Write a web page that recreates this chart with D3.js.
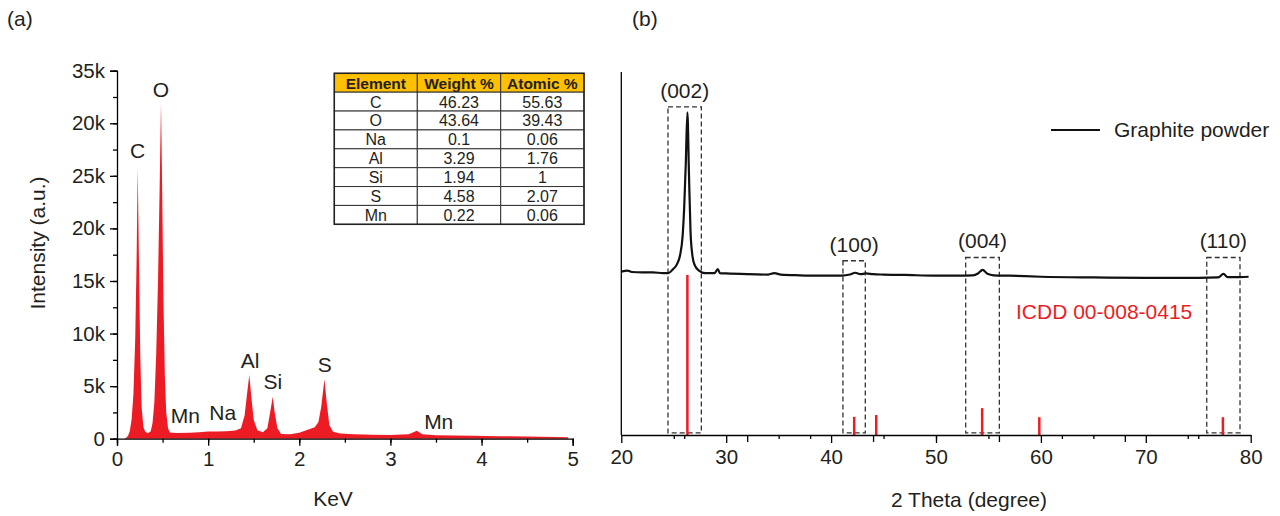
<!DOCTYPE html>
<html>
<head>
<meta charset="utf-8">
<script src="https://cdn.jsdelivr.net/npm/d3@7"></script>
<style>
  body { margin: 0; background: #fff; }
  text { font-family: "Liberation Sans", Arial, sans-serif; fill: #231f20; }
</style>
</head>
<body>
<div class="chart"></div>
<script>
// ---- data (a) EDS spectrum ----
var edsKeV = [0.08, 0.10, 0.12, 0.14, 0.16, 0.18, 0.20, 0.215, 0.227, 0.24, 0.255, 0.27, 0.29, 0.31, 0.34,
  0.37, 0.39, 0.41, 0.43, 0.45, 0.47, 0.483, 0.495, 0.51, 0.525, 0.54, 0.56, 0.58, 0.65, 0.8, 0.9,
  1.0, 1.1, 1.2, 1.3, 1.36, 1.40, 1.43, 1.452, 1.47, 1.50, 1.54, 1.60, 1.65, 1.68, 1.709, 1.73, 1.76,
  1.80, 1.9, 2.0, 2.1, 2.17, 2.21, 2.24, 2.276, 2.30, 2.33, 2.37, 2.45, 2.6, 2.8, 3.0, 3.2, 3.29, 3.35,
  3.5, 3.7, 3.9, 4.2, 4.5, 4.8, 4.95];
var edsCounts = [0, 80, 250, 700, 1800, 4200, 9500, 17000, 25800, 17500, 8000, 3000, 1100, 650, 520,
  700, 1500, 3500, 8000, 15000, 25000, 31960, 24000, 13000, 6000, 2500, 1000, 600, 540, 560, 620,
  680, 690, 700, 780, 1000, 2200, 4500, 6060, 4300, 1800, 800, 620, 1000, 2500, 3995, 2500, 1000,
  450, 420, 560, 880, 1100, 1600, 3000, 5650, 3500, 1300, 650, 500, 420, 380, 360, 420, 760, 420,
  340, 300, 280, 240, 200, 160, 130];

var edsYTicks = [0, 5000, 10000, 15000, 20000, 25000, 30000, 35000];
var edsYLabels = ["0", "5k", "10k", "15k", "20k", "25k", "20k", "35k"];

var edsPeakNames = ["C", "O", "Mn", "Na", "Al", "Si", "S", "Mn"];
var edsPeakKeV = [0.227, 0.483, 0.75, 1.16, 1.46, 1.71, 2.28, 3.53];
var edsPeakLabelY = [26700, 32500, 1500, 1750, 6700, 4700, 6300, 900];

var tableHead = ["Element", "Weight %", "Atomic %"];
var tableElements = ["C", "O", "Na", "Al", "Si", "S", "Mn"];
var tableWeight = ["46.23", "43.64", "0.1", "3.29", "1.94", "4.58", "0.22"];
var tableAtomic = ["55.63", "39.43", "0.06", "1.76", "1", "2.07", "0.06"];

// ---- data (b) XRD ----
var xrdTheta = [20.0, 20.6, 21, 22, 23, 24, 24.5, 24.9, 25.3, 25.6, 25.85, 26.0, 26.15, 26.3, 26.45,
  26.6, 26.8, 27.0, 27.4, 28.0, 28.9, 29.2, 29.4, 30, 32, 34, 34.6, 35.2, 37, 39, 41, 41.8, 42.3,
  42.8, 43.3, 44.0, 45, 47, 50, 52, 53.5, 54.0, 54.45, 54.9, 55.5, 57, 60, 65, 70, 75, 76.9, 77.4,
  77.8, 79, 79.8];
var xrdIntensity = [45.0, 45.3, 44.9, 44.8, 44.8, 44.6, 44.6, 45.6, 47.0, 49.5, 55, 63, 75, 88.9, 72,
  56, 49, 46.8, 45.3, 44.6, 44.6, 45.7, 44.6, 44.5, 44.3, 44.2, 44.6, 44.2, 44.0, 43.9, 43.9, 44.2, 44.7,
  44.3, 44.5, 44.3, 44.2, 44.1, 43.9, 43.9, 44.0, 44.5, 45.5, 44.4, 44.0, 43.9, 43.6, 43.4, 43.3, 43.3, 43.4, 44.4,
  43.5, 43.5, 43.6];

var icddTheta = [26.3, 42.2, 44.3, 54.4, 59.85, 77.35];
var icddIntensity = [44.1, 5.0, 5.5, 7.4, 4.9, 4.9];

var boxHkl = ["(002)", "(100)", "(004)", "(110)"];
var boxFrom = [24.45, 41.13, 52.83, 75.81];
var boxTo = [27.63, 43.26, 56.04, 78.98];
var boxTop = [90.4, 48.0, 48.9, 48.9];
var boxBottom = 0.6;

var svg = d3.select(".chart").append("svg")
  .attr("width", 1280)
  .attr("height", 516);

var red = "#ed1c24";

// ================= panel (a) =================
var xA = d3.scaleLinear().domain([0, 5]).range([117, 572.7]);
var yA = d3.scaleLinear().domain([0, 35000]).range([438.7, 70.7]);

var edsData = edsKeV.map(function (k, i) { return { k: k, c: edsCounts[i] }; });

var area = d3.area()
  .x(d => xA(d.k))
  .y0(yA(0))
  .y1(d => yA(d.c));

svg.append("path")
  .datum(edsData)
  .attr("d", area)
  .attr("fill", red);

// x axis (a)
svg.append("g")
  .attr("transform", `translate(0, ${yA(0)})`)
  .call(d3.axisBottom(xA).tickValues(d3.range(0, 5.01, 0.5)).tickSize(4).tickFormat(""))
  .call(g => g.select(".domain").remove());
var xAxisA = svg.append("g")
  .attr("transform", `translate(0, ${yA(0)})`)
  .call(d3.axisBottom(xA).ticks(5).tickSize(7).tickPadding(6).tickFormat(d3.format("d")));

// y axis (a)
svg.append("g")
  .attr("transform", `translate(${xA(0)}, 0)`)
  .call(d3.axisLeft(yA).tickValues(d3.range(0, 35001, 2500)).tickSize(4).tickFormat(""))
  .call(g => g.select(".domain").remove());
var yAxisA = svg.append("g")
  .attr("transform", `translate(${xA(0)}, 0)`)
  .call(d3.axisLeft(yA).tickValues(edsYTicks).tickSize(7).tickPadding(5)
    .tickFormat((d, i) => edsYLabels[i]));

// peak labels
svg.selectAll(".eds-label")
  .data(edsPeakNames)
  .enter().append("text")
  .attr("class", "eds-label")
  .attr("x", (d, i) => xA(edsPeakKeV[i]))
  .attr("y", (d, i) => yA(edsPeakLabelY[i]))
  .attr("text-anchor", "middle")
  .attr("font-size", "21px")
  .text(d => d);

svg.append("text")
  .attr("x", 333)
  .attr("y", 506)
  .attr("text-anchor", "middle")
  .attr("font-size", "21px")
  .text("KeV");

svg.append("text")
  .attr("transform", "translate(45, 243) rotate(-90)")
  .attr("text-anchor", "middle")
  .attr("font-size", "21px")
  .text("Intensity (a.u.)");

svg.append("text")
  .attr("x", 7)
  .attr("y", 26)
  .attr("font-size", "21px")
  .text("(a)");

// table
var tx = [334.3, 417.3, 500.7, 584];
var tTop = 73.3, rowH = 18.875;
var tableRows = [tableHead].concat(tableElements.map(function (e, i) {
  return [e, tableWeight[i], tableAtomic[i]];
}));
var table = svg.append("g");
tableRows.forEach(function (row, r) {
  row.forEach(function (cell, c) {
    table.append("rect")
      .attr("x", tx[c])
      .attr("y", tTop + r * rowH)
      .attr("width", tx[c + 1] - tx[c])
      .attr("height", rowH)
      .attr("fill", r == 0 ? "#ffc000" : "#fff")
      .attr("stroke", "#333")
      .attr("stroke-width", 1);
    table.append("text")
      .attr("x", (tx[c] + tx[c + 1]) / 2)
      .attr("y", tTop + r * rowH + rowH / 2 + 6)
      .attr("text-anchor", "middle")
      .attr("font-size", r == 0 ? "15.5px" : "16px")
      .attr("font-weight", r == 0 ? "bold" : "normal")
      .text(cell);
  });
});
table.append("rect")
  .attr("x", tx[0]).attr("y", tTop)
  .attr("width", tx[3] - tx[0]).attr("height", rowH * 8)
  .attr("fill", "none").attr("stroke", "#222").attr("stroke-width", 1.5);

// ================= panel (b) =================
var xB = d3.scaleLinear().domain([20, 80]).range([621.3, 1250.7]);
var yB = d3.scaleLinear().domain([0, 100]).range([435, 72]);

// dashed boxes
svg.selectAll(".hkl-box")
  .data(boxHkl)
  .enter().append("rect")
  .attr("class", "hkl-box")
  .attr("x", (d, i) => xB(boxFrom[i]))
  .attr("y", (d, i) => yB(boxTop[i]))
  .attr("width", (d, i) => xB(boxTo[i]) - xB(boxFrom[i]))
  .attr("height", (d, i) => yB(boxBottom) - yB(boxTop[i]))
  .attr("fill", "none")
  .attr("stroke", "#333")
  .attr("stroke-width", 1.3)
  .attr("stroke-dasharray", "5,3");

svg.selectAll(".hkl-label")
  .data(boxHkl)
  .enter().append("text")
  .attr("class", "hkl-label")
  .attr("x", (d, i) => (xB(boxFrom[i]) + xB(boxTo[i])) / 2)
  .attr("y", (d, i) => yB(boxTop[i]) - 9)
  .attr("text-anchor", "middle")
  .attr("font-size", "21px")
  .text(d => d);

// ICDD sticks
svg.selectAll(".icdd")
  .data(icddTheta)
  .enter().append("line")
  .attr("class", "icdd")
  .attr("x1", d => xB(d))
  .attr("x2", d => xB(d))
  .attr("y1", yB(0))
  .attr("y2", (d, i) => yB(icddIntensity[i]))
  .attr("stroke", red)
  .attr("stroke-width", 2.5);

// XRD line
var xrdData = xrdTheta.map(function (t, i) { return { t: t, v: xrdIntensity[i] }; });
svg.append("path")
  .datum(xrdData)
  .attr("d", d3.line().x(d => xB(d.t)).y(d => yB(d.v)).curve(d3.curveMonotoneX))
  .attr("fill", "none")
  .attr("stroke", "#111")
  .attr("stroke-width", 2.2);

// x axis (b): two overlaid tick sets
svg.append("g")
  .attr("transform", `translate(0, ${yB(0)})`)
  .call(d3.axisBottom(xB).tickValues([25, 35, 45, 55, 65, 75, 26, 38, 50, 62, 74]).tickSize(4).tickFormat(""))
  .call(g => g.select(".domain").remove());
svg.append("g")
  .attr("transform", `translate(0, ${yB(0)})`)
  .call(d3.axisBottom(xB).tickValues([32, 44, 56, 68]).tickSize(7).tickFormat(""))
  .call(g => g.select(".domain").remove());
var xAxisB = svg.append("g")
  .attr("transform", `translate(0, ${yB(0)})`)
  .call(d3.axisBottom(xB).tickValues(d3.range(20, 81, 10)).tickSize(8).tickPadding(6).tickSizeOuter(0));

// y axis (b): plain line
svg.append("line")
  .attr("x1", xB(20)).attr("x2", xB(20))
  .attr("y1", yB(0)).attr("y2", yB(100))
  .attr("stroke", "#000")
  .attr("stroke-width", 1.3);

svg.append("text")
  .attr("x", 969)
  .attr("y", 507)
  .attr("text-anchor", "middle")
  .attr("font-size", "21px")
  .text("2 Theta (degree)");

svg.append("text")
  .attr("x", 632)
  .attr("y", 26)
  .attr("font-size", "21px")
  .text("(b)");

// legend
svg.append("line")
  .attr("x1", 1051).attr("x2", 1100)
  .attr("y1", 130).attr("y2", 130)
  .attr("stroke", "#111").attr("stroke-width", 2.2);
svg.append("text")
  .attr("x", 1114)
  .attr("y", 137)
  .attr("font-size", "21px")
  .text("Graphite powder");

svg.append("text")
  .attr("x", 1016)
  .attr("y", 319)
  .attr("font-size", "21px")
  .style("fill", red)
  .text("ICDD 00-008-0415");

// common axis styling
svg.selectAll(".tick text")
  .attr("font-size", "20.5px")
  .style("font-family", "'Liberation Sans', Arial, sans-serif");
svg.selectAll(".domain, .tick line")
  .attr("stroke", "#000")
  .attr("stroke-width", 1.3);
</script>
</body>
</html>
